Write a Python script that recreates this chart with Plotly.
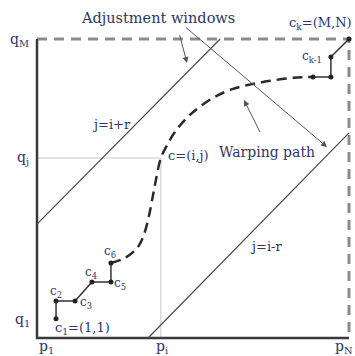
import plotly.graph_objects as go

# ---- data (conceptual grid units: i along x 0..100, j along y 0..100) ----
border_i = [0, 0, 100]
border_j = [100, 0, 0]
border_dash_i = [0, 100, 100]
border_dash_j = [100, 100, 0]

window_upper_i = [0, 58.7]
window_upper_j = [38.1, 100]
window_lower_i = [35.6, 100]
window_lower_j = [0, 68.6]

start_path_i = [6.1, 6.1, 12.2, 17.6, 23.7, 23.7]
start_path_j = [6.4, 12.4, 12.4, 18.7, 18.7, 25.1]

warp_i = [23.7, 28.2, 32.1, 34.0, 35.6, 36.9, 38.1, 39.7, 41.7, 44.2, 49.0, 56.4, 62.8, 68.9, 74.7, 82.1, 88.5]
warp_j = [25.1, 26.8, 30.1, 33.8, 39.5, 46.2, 52.8, 60.2, 64.5, 68.9, 74.6, 80.3, 83.3, 84.9, 86.0, 87.0, 87.3]

end_path_i = [88.5, 94.2, 94.2, 100]
end_path_j = [87.3, 87.3, 94.0, 100]

cell_i = 39.7
cell_j = 60.2

# ---- pixel <-> data helpers for layout ----
X0, SX = 37.0, 3.12
Y0, SY = 338.0, 2.99
def px(x, y):
    return (x - X0) / SX, (Y0 - y) / SY

W, H = 355, 356
fig = go.Figure()

DARK = "#3a3a3a"
TXT = "#2b3766"

# guides for cell c=(i,j)
fig.add_trace(go.Scatter(x=[0, cell_i, cell_i], y=[cell_j, cell_j, 0], mode="lines",
                         line=dict(color="#c8c8c8", width=1)))
# borders
fig.add_trace(go.Scatter(x=border_dash_i, y=border_dash_j, mode="lines",
                         line=dict(color="#8c8c8c", width=3, dash="10px,7px")))
fig.add_trace(go.Scatter(x=border_i, y=border_j, mode="lines",
                         line=dict(color=DARK, width=2.5)))
# adjustment windows
fig.add_trace(go.Scatter(x=window_upper_i, y=window_upper_j, mode="lines",
                         line=dict(color="#4a4a4a", width=1.2)))
fig.add_trace(go.Scatter(x=window_lower_i, y=window_lower_j, mode="lines",
                         line=dict(color="#4a4a4a", width=1.2)))
# warping path (dashed curve)
fig.add_trace(go.Scatter(x=warp_i, y=warp_j, mode="lines",
                         line=dict(color="#2a2a2a", width=2.5, dash="10px,6px", shape="spline", smoothing=1.0)))
# start & end solid segments
fig.add_trace(go.Scatter(x=start_path_i, y=start_path_j, mode="lines+markers",
                         line=dict(color="#333333", width=1.5),
                         marker=dict(color="#222222", size=5)))
fig.add_trace(go.Scatter(x=end_path_i, y=end_path_j, mode="lines+markers",
                         line=dict(color="#333333", width=1.5),
                         marker=dict(color="#222222", size=5)))

FONT = "DejaVu Serif"
def label(text, x, y, size=14, color=TXT):
    dx, dy = px(x, y)
    fig.add_annotation(x=dx, y=dy, text=text, showarrow=False,
                       font=dict(family=FONT, size=size, color=color),
                       xanchor="center", yanchor="middle")

label("Adjustment windows", 158, 18, 14.5)
label("q<sub>M</sub>", 19, 40, 14)
label("q<sub>j</sub>", 23, 158, 14)
label("q<sub>1</sub>", 22, 320, 14)
label("p<sub>1</sub>", 46, 347, 14)
label("p<sub>i</sub>", 162, 347, 14)
label("p<sub>N</sub>", 344, 347, 14)
label("j=i+r", 111, 124, 13)
label("j=i-r", 266, 246, 13)
label("c=(i,j)", 188, 155, 13)
label("Warping path", 267, 152, 14)
label("c<sub>k</sub>=(M,N)", 320, 23, 13)
label("c<sub>k-1</sub>", 312, 57, 12)
label("c<sub>1</sub>=(1,1)", 82, 328, 13)
label("c<sub>2</sub>", 56, 292, 12)
label("c<sub>3</sub>", 86, 303, 12)
label("c<sub>4</sub>", 91, 273, 12)
label("c<sub>5</sub>", 120, 284, 12)
label("c<sub>6</sub>", 110, 252, 12)

def arrow(tip, tail):
    tx, ty = px(*tip)
    ax, ay = px(*tail)
    fig.add_annotation(x=tx, y=ty, ax=ax, ay=ay, axref="x", ayref="y", xref="x", yref="y",
                       text=" ", showarrow=True, arrowhead=2, arrowsize=1.2,
                       arrowwidth=1, arrowcolor="#555555", standoff=0, startstandoff=0)

arrow((187, 63), (177, 25))
arrow((327, 147), (183, 25))
arrow((244, 100), (263, 138))

xr = [(0 - X0) / SX, (W - X0) / SX]
yr = [(Y0 - H) / SY, Y0 / SY]
fig.update_layout(width=W, height=H, margin=dict(l=0, r=0, t=0, b=0),
                  paper_bgcolor="white", plot_bgcolor="white", showlegend=False,
                  xaxis=dict(range=xr, visible=False, fixedrange=True),
                  yaxis=dict(range=yr, visible=False, fixedrange=True))
fig.write_html("out.html", config={"displayModeBar": False},
               post_script="document.body.style.margin='0px';document.body.style.overflow='hidden';")
